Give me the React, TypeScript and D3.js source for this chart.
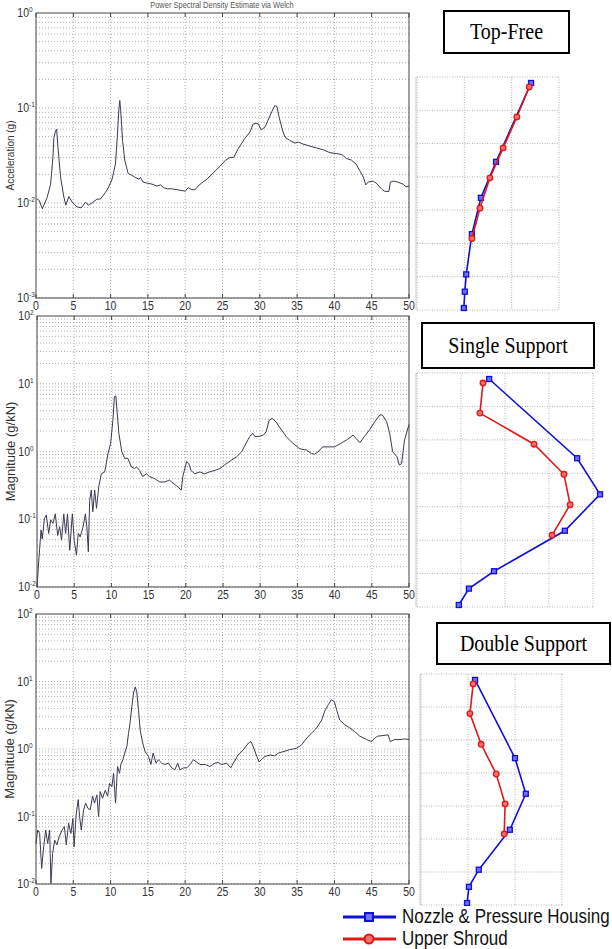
import React from 'react';
import * as d3 from 'd3';

// spectra (frequency Hz, magnitude)
const topFreeFreq = [0.1,0.45,0.85,1.5,1.96,2.27,2.4,2.63,2.76,2.94,3.3,3.74,4.0,4.4,4.86,5.5,6.06,6.64,7.0,7.5,8.2,8.64,9.3,9.76,10.2,10.65,10.87,11.1,11.23,11.36,11.6,11.9,12.35,12.9,13.3,13.8,14.0,14.35,14.9,15.55,16.2,16.7,17.1,17.6,18.2,18.9,19.6,20.0,20.4,20.9,21.3,22.0,22.9,23.8,24.7,25.4,26.0,26.5,27.1,28.0,28.7,29.1,29.5,29.8,30.2,30.7,31.1,31.6,32.0,32.3,32.6,33.1,33.4,34.0,34.7,35.2,35.8,36.7,37.6,38.5,39.4,40.3,41.0,41.6,42.3,42.9,43.4,43.9,44.2,44.5,45.2,45.6,46.3,46.7,47.3,47.5,47.9,48.5,49.2,49.6,50];
const topFreeAccel = [0.0111,0.0106,0.0087,0.0115,0.0158,0.0302,0.049,0.0575,0.060,0.039,0.0186,0.0115,0.0095,0.0117,0.0102,0.0091,0.0089,0.0102,0.0095,0.0100,0.0110,0.0110,0.0129,0.0148,0.0178,0.0257,0.0457,0.0933,0.120,0.0933,0.0457,0.0282,0.0204,0.0195,0.0186,0.0178,0.0186,0.0166,0.0162,0.0158,0.0151,0.0155,0.0145,0.0141,0.0141,0.0138,0.0135,0.0133,0.0145,0.0138,0.0138,0.0158,0.0178,0.0209,0.0245,0.0282,0.0302,0.0302,0.0372,0.0479,0.0562,0.0676,0.0692,0.0676,0.0589,0.0631,0.0741,0.0912,0.106,0.1035,0.0794,0.0562,0.049,0.0457,0.0427,0.0437,0.0417,0.0398,0.038,0.0363,0.0339,0.0331,0.0324,0.0295,0.0282,0.0257,0.0219,0.0186,0.0155,0.0166,0.017,0.0162,0.0141,0.0133,0.0132,0.0166,0.017,0.0166,0.0158,0.0148,0.0151];

const singleFreq = [0,0.27,0.54,0.7,1.0,1.25,1.57,1.84,2.15,2.46,2.78,3.05,3.3,3.6,3.85,4.1,4.4,4.75,5.0,5.3,5.55,5.8,6.2,6.5,6.7,6.9,7.08,7.3,7.5,7.75,8.0,8.3,8.65,9.1,9.55,9.9,10.2,10.4,10.6,10.75,11.0,11.4,11.8,12.2,12.7,13.1,13.4,13.8,14.2,14.7,15.1,15.8,16.5,17.2,17.8,18.3,18.7,19.4,19.6,20.1,20.4,20.7,21.2,21.9,22.5,23.2,23.9,24.6,25.2,26.1,26.8,27.5,28.1,28.6,29.0,29.3,29.7,30.4,30.8,31.2,31.6,32.1,32.6,33.5,34.4,35.3,36.2,36.9,37.3,37.8,38.4,39.3,40.0,40.7,41.6,42.5,42.9,43.4,44.0,44.7,45.4,46.1,46.4,47.0,47.4,47.8,48.4,48.7,49.0,49.4,50];
const singleMag = [0.01,0.0275,0.069,0.051,0.102,0.115,0.0617,0.098,0.087,0.12,0.0575,0.0776,0.049,0.12,0.0617,0.12,0.0347,0.12,0.049,0.0295,0.0617,0.055,0.0776,0.12,0.0776,0.0331,0.19,0.269,0.129,0.269,0.145,0.302,0.468,0.50,0.933,1.32,2.88,6.46,6.61,4.07,1.86,0.99,0.794,0.794,0.589,0.562,0.589,0.525,0.427,0.468,0.427,0.398,0.355,0.355,0.38,0.339,0.316,0.269,0.427,0.708,0.661,0.525,0.468,0.50,0.468,0.50,0.525,0.562,0.631,0.741,0.832,0.99,1.32,1.66,1.86,1.66,1.66,1.74,1.95,2.88,3.09,2.75,2.29,1.66,1.32,1.10,1.05,0.933,0.912,0.99,1.17,1.17,1.17,1.29,1.48,1.74,1.55,1.35,1.66,2.09,2.75,3.47,3.47,2.75,1.86,0.99,0.832,0.631,0.661,1.48,2.51];

const doubleFreq = [0,0.22,0.49,0.76,1.03,1.3,1.56,1.83,2.0,2.23,2.5,2.8,3.1,3.5,3.8,4.06,4.37,4.68,4.95,5.1,5.4,5.66,5.84,6.07,6.38,6.65,6.96,7.27,7.58,7.85,8.16,8.39,8.6,8.92,9.28,9.6,9.86,10.17,10.4,10.66,10.93,11.2,11.37,11.64,11.9,12.18,12.4,12.6,12.85,13.07,13.3,13.5,13.74,13.96,14.3,14.63,15.08,15.4,15.7,16.1,16.4,16.86,17.3,17.75,18.2,18.6,19.0,19.3,19.76,20.2,20.65,21.1,21.5,22.0,22.7,23.3,24.0,24.4,24.9,25.55,26.1,26.45,27.1,27.8,28.5,28.8,29.1,29.6,29.9,30.2,30.7,31.4,32.0,32.5,33.1,34.0,34.9,35.6,36.3,36.9,37.6,38.3,38.7,39.2,39.6,40.0,40.3,40.7,41.4,42.1,42.7,43.4,44.3,45.0,45.4,45.8,46.5,47.2,47.5,48.1,48.8,49.4,50];
const doubleMag = [0.0398,0.0631,0.0562,0.017,0.0355,0.0631,0.0398,0.0631,0.0102,0.0282,0.0447,0.038,0.0501,0.0631,0.0708,0.038,0.0794,0.0562,0.0933,0.0355,0.112,0.178,0.10,0.0631,0.126,0.158,0.132,0.126,0.20,0.158,0.209,0.10,0.234,0.186,0.245,0.20,0.309,0.275,0.437,0.158,0.55,0.437,0.589,0.692,0.871,1.10,1.70,2.40,4.27,6.76,8.32,7.08,3.80,1.91,1.23,0.912,0.776,0.589,0.871,0.617,0.692,0.617,0.589,0.617,0.525,0.49,0.617,0.49,0.525,0.525,0.589,0.692,0.646,0.589,0.589,0.55,0.617,0.631,0.589,0.617,0.525,0.617,0.813,0.977,1.23,1.29,1.10,0.776,0.646,0.692,0.776,0.813,0.794,0.871,0.912,0.977,1.02,1.15,1.45,1.70,2.04,2.69,3.63,4.57,5.37,5.01,3.80,2.69,2.29,2.04,1.82,1.55,1.38,1.29,1.45,1.55,1.58,1.62,1.29,1.38,1.38,1.41,1.38];

const freqTicks = [0, 5, 10, 15, 20, 25, 30, 35, 40, 45, 50];

// mode shapes: node heights (grid rows) and lateral amplitude (grid columns)
const nozzleHeights = [6.82, 4.45, 3.37, 2.28, 1.07, 0.55, 0.06];
const shroudHeights = [6.70, 5.80, 4.87, 3.97, 3.06, 2.15];
const topFreeNozzle = [2.41, 1.67, 1.35, 1.16, 1.04, 1.01, 0.99];
const topFreeShroud = [2.37, 2.11, 1.82, 1.54, 1.33, 1.16];
const singleNozzle = [1.64, 3.64, 4.16, 3.36, 1.75, 1.18, 0.95];
const singleShroud = [1.5, 1.43, 2.66, 3.34, 3.48, 3.07];
const doubleNozzle = [1.15, 2.0, 2.23, 1.89, 1.23, 1.02, 0.98];
const doubleShroud = [1.11, 1.04, 1.28, 1.6, 1.79, 1.77];

const legendNames = ['Nozzle & Pressure Housing', 'Upper Shroud'];

const BLUE = '#1010d8';
const RED = '#e01818';
const SY = 1.15; // the source picture is a little stretched vertically

const Txt = ({ x, y, size, anchor = 'start', family = 'Liberation Sans, Arial, sans-serif', fill = '#333', children, rotate = 0 }) => (
  <g transform={`translate(${x},${y}) rotate(${rotate}) scale(1,${rotate ? 1 : SY})`}>
    <text fontSize={size} fontFamily={family} textAnchor={anchor} fill={fill}>{children}</text>
  </g>
);

const Spectrum = ({ freq, values, left, right, top, bottom, domain, yLabel, labelSize }) => {
  const x = d3.scaleLinear().domain([0, 50]).range([left, right]);
  const y = d3.scaleLog().domain(domain).range([bottom, top]);
  const line = d3.line<number>().x((_, i) => x(freq[i])).y(d => y(d));

  const lo = Math.round(Math.log10(domain[0]));
  const hi = Math.round(Math.log10(domain[1]));
  const minor = [];
  for (let e = lo; e < hi; e++) {
    for (let m = 1; m < 10; m++) minor.push(m * Math.pow(10, e));
  }
  const decades = d3.range(lo, hi + 1);

  return (
    <g>
      <rect x={left} y={top} width={right - left} height={bottom - top} fill="#fff" />
      {minor.map((v, i) => (
        <line key={'h' + i} x1={left} x2={right} y1={y(v)} y2={y(v)} stroke="#9c9c9c" strokeWidth={0.8} strokeDasharray="1,2" />
      ))}
      {freqTicks.slice(1, -1).map(f => (
        <line key={'v' + f} x1={x(f)} x2={x(f)} y1={top} y2={bottom} stroke="#9c9c9c" strokeWidth={0.8} strokeDasharray="1,2" />
      ))}
      {freqTicks.map(f => (
        <g key={'t' + f}>
          <line x1={x(f)} x2={x(f)} y1={bottom} y2={bottom - 4} stroke="#444" />
          <line x1={x(f)} x2={x(f)} y1={top} y2={top + 4} stroke="#444" />
          <Txt x={x(f)} y={bottom + 12} size={10.5} anchor="middle">{f}</Txt>
        </g>
      ))}
      {decades.map(e => (
        <g key={'d' + e}>
          <Txt x={left - 7} y={y(Math.pow(10, e)) + 4} size={10.5} anchor="end">10</Txt>
          <Txt x={left - 7} y={y(Math.pow(10, e)) - 1} size={6.5}>{e}</Txt>
        </g>
      ))}
      <path d={line(values) || ''} fill="none" stroke="#3a3a52" strokeWidth={1} />
      <rect x={left} y={top} width={right - left} height={bottom - top} fill="none" stroke="#444" strokeWidth={1} />
      <Txt x={left - 22} y={(top + bottom) / 2} size={labelSize} anchor="middle" rotate={-90}>{yLabel}</Txt>
    </g>
  );
};

const ModeShape = ({ left, right, top, bottom, cols, nozzle, shroud, title, box }) => {
  const x = d3.scaleLinear().domain([0, cols]).range([left, right]);
  const y = d3.scaleLinear().domain([0, 7]).range([bottom, top]);
  const line = d3.line<number[]>().x(d => x(d[0])).y(d => y(d[1]));
  const nPts = nozzle.map((v, i) => [v, nozzleHeights[i]]);
  const sPts = shroud.map((v, i) => [v, shroudHeights[i]]);
  return (
    <g>
      <rect x={left} y={top} width={right - left} height={bottom - top} fill="#fff" />
      {d3.range(0, 8).map(r => (
        <line key={'r' + r} x1={left} x2={right} y1={y(r)} y2={y(r)} stroke="#b4b4b4" strokeDasharray="1,1.5" />
      ))}
      {d3.range(0, cols + 1).map(c => (
        <line key={'c' + c} x1={x(c)} x2={x(c)} y1={top} y2={bottom} stroke="#b4b4b4" strokeDasharray="1,1.5" />
      ))}
      <line x1={left - 1} x2={left - 1} y1={top} y2={bottom} stroke="#c8c8c8" />
      <path d={line(nPts) || ''} fill="none" stroke={BLUE} strokeWidth={1.6} />
      {nPts.map((p, i) => (
        <rect key={'n' + i} x={x(p[0]) - 2.5} y={y(p[1]) - 2.5} width={5} height={5} fill="#6f6ff0" stroke={BLUE} strokeWidth={1.3} />
      ))}
      <path d={line(sPts) || ''} fill="none" stroke={RED} strokeWidth={1.6} />
      {sPts.map((p, i) => (
        <circle key={'s' + i} cx={x(p[0])} cy={y(p[1])} r={2.8} fill="#f07070" stroke={RED} strokeWidth={1.3} />
      ))}
      <rect x={box[0]} y={box[1]} width={box[2] - box[0]} height={box[3] - box[1]} fill="#fff" stroke="#000" strokeWidth={2} />
      <Txt x={(box[0] + box[2]) / 2} y={(box[1] + box[3]) / 2 + 7} size={20} anchor="middle" family="Liberation Serif, Times New Roman, serif" fill="#000">{title}</Txt>
    </g>
  );
};

export default function App() {
  return (
    <svg width={612} height={949} style={{ position: 'absolute', left: 0, top: 0, background: '#fff' }}>
      <rect width={612} height={949} fill="#fff" />
      <Txt x={222} y={8} size={7.5} anchor="middle" fill="#555">Power Spectral Density Estimate via Welch</Txt>
      <Spectrum freq={topFreeFreq} values={topFreeAccel} left={36} right={409} top={13} bottom={298} domain={[1e-3, 1]} yLabel="Acceleration (g)" labelSize={10} />
      <Spectrum freq={singleFreq} values={singleMag} left={37} right={409} top={316} bottom={587} domain={[1e-2, 1e2]} yLabel="Magnitude (g/kN)" labelSize={13} />
      <Spectrum freq={doubleFreq} values={doubleMag} left={36} right={409} top={614} bottom={884} domain={[1e-2, 1e2]} yLabel="Magnitude (g/kN)" labelSize={13} />

      <ModeShape left={417} right={559} top={77} bottom={310} cols={3} nozzle={topFreeNozzle} shroud={topFreeShroud} title="Top-Free" box={[444, 11, 569, 53]} />
      <ModeShape left={417} right={593} top={373} bottom={607} cols={4} nozzle={singleNozzle} shroud={singleShroud} title="Single Support" box={[422, 323, 594, 368]} />
      <ModeShape left={421} right={562} top={674} bottom={905} cols={3} nozzle={doubleNozzle} shroud={doubleShroud} title="Double Support" box={[437, 623, 610, 664]} />

      <g>
        <rect x={340} y={906} width={272} height={43} fill="#fff" />
        {legendNames.map((name, i) => {
          const ly = 917 + i * 22;
          const c = i === 0 ? BLUE : RED;
          return (
            <g key={name}>
              <line x1={343} x2={396} y1={ly} y2={ly} stroke={c} strokeWidth={3} />
              {i === 0
                ? <rect x={365} y={ly - 4} width={8} height={8} fill="#6f6ff0" stroke={c} strokeWidth={2} />
                : <circle cx={369} cy={ly} r={4.5} fill="#f07070" stroke={c} strokeWidth={2} />}
              <Txt x={402} y={ly + 6} size={17} fill="#111">{name}</Txt>
            </g>
          );
        })}
      </g>
    </svg>
  );
}
